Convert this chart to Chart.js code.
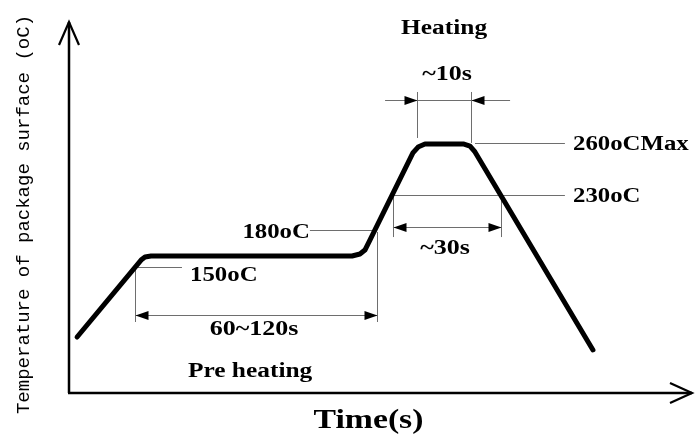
<!DOCTYPE html>
<html>
<head>
<meta charset="utf-8">
<script src="https://cdn.jsdelivr.net/npm/chart.js@4/dist/chart.umd.min.js"></script>
<style>
  html, body { margin: 0; padding: 0; background: #fff; }
  #wrap { width: 695px; height: 439px; position: relative; }
</style>
</head>
<body>
<div id="wrap"><canvas id="c"></canvas></div>
<script>
// ---- profile data (time in s, schematic temperature units) ----
const profileTime = [3.9, 34.7, 36.6, 39.5, 136.3, 140.1, 142.5, 144.9, 165.6, 168.1, 171.4, 190.2, 193.1, 195.5, 252.3];
const profileTemp = [45.3, 107.5, 110.0, 110.8, 110.8, 112.4, 115.6, 123.7, 194.1, 198.9, 201.3, 201.3, 199.7, 194.9, 34.8];

// ---- temperature level marks ----
const levelLabels   = ['150oC', '180oC', '230oC', '260oCMax'];
const levelTemps    = [101.9, 131.8, 160.1, 202.2];
const levelLineFrom = [31.8, 116.0, 156.0, 195.5];
const levelLineTo   = [54.4, 146.4, 238.8, 238.8];
const levelLabelX   = [58.3, 116.0, 242.7, 242.7];
const levelLabelY   = [96.2, 131.0, 160.1, 202.2];
const levelAlign    = ['left', 'right', 'left', 'left'];

// ---- duration marks ----
const spanLabels      = ['60~120s', '~30s', '~10s'];
const spanStart       = [31.8, 156.0, 167.6];
const spanEnd         = [148.3, 208.0, 193.6];
const spanArrowTemp   = [63.1, 134.2, 236.9];
const spanTopStart    = [101.9, 160.1, 243.4];
const spanTopEnd      = [130.2, 160.1, 243.4];
const spanBottomStart = [57.4, 126.1, 206.2];
const spanBottomEnd   = [57.4, 126.1, 202.2];
const spanInward      = [false, false, true];
const spanLineFrom    = [31.8, 156.0, 152.2];
const spanLineTo      = [148.3, 208.0, 212.4];
const spanLabelX      = [89.1, 181.1, 182.0];
const spanLabelY      = [52.6, 118.1, 259.0];

// ---- phase labels ----
const phaseLabels = ['Pre heating', 'Heating'];
const phaseX      = [87.2, 180.6];
const phaseY      = [18.6, 296.0];

const xTitle = 'Time(s)';
const yTitle = 'Temperature of package surface (oC)';

const LABEL_FONT = 'bold 20px "Liberation Serif"';
const GRAY = '#6e6e6e';

function txt(ctx, s, x, y, font, align, sx) {
  ctx.save();
  ctx.font = font;
  ctx.fillStyle = '#000';
  ctx.textAlign = align;
  ctx.textBaseline = 'middle';
  ctx.translate(x, y + 2);
  ctx.scale(sx, 1);
  ctx.fillText(s, 0, 0);
  ctx.restore();
}
function line(ctx, x0, y0, x1, y1) {
  ctx.beginPath();
  ctx.moveTo(x0, y0);
  ctx.lineTo(x1, y1);
  ctx.stroke();
}
function arrowHead(ctx, tipX, y, dir) { // dir -1: points left, +1: points right
  const L = 13, H = 4.5;
  ctx.beginPath();
  ctx.moveTo(tipX, y);
  ctx.lineTo(tipX - dir * L, y - H);
  ctx.lineTo(tipX - dir * L, y + H);
  ctx.closePath();
  ctx.fill();
}

const annotations = {
  id: 'annotations',
  beforeDatasetsDraw(chart) {
    const ctx = chart.ctx, xs = chart.scales.x, ys = chart.scales.y;
    const X = v => xs.getPixelForValue(v), Y = v => ys.getPixelForValue(v);
    ctx.save();
    ctx.strokeStyle = GRAY;
    ctx.fillStyle = '#000';
    ctx.lineWidth = 1;
    // level lines
    for (let i = 0; i < levelTemps.length; i++) {
      line(ctx, X(levelLineFrom[i]), Math.round(Y(levelTemps[i])) + 0.5, X(levelLineTo[i]), Math.round(Y(levelTemps[i])) + 0.5);
    }
    // span marks
    for (let i = 0; i < spanLabels.length; i++) {
      const xa = Math.round(X(spanStart[i])) + 0.5, xb = Math.round(X(spanEnd[i])) + 0.5;
      const ya = Math.round(Y(spanArrowTemp[i])) + 0.5;
      line(ctx, xa, Y(spanTopStart[i]), xa, Y(spanBottomStart[i]));
      line(ctx, xb, Y(spanTopEnd[i]), xb, Y(spanBottomEnd[i]));
      line(ctx, X(spanLineFrom[i]), ya, X(spanLineTo[i]), ya);
      if (spanInward[i]) {
        arrowHead(ctx, xa, ya, 1);
        arrowHead(ctx, xb, ya, -1);
      } else {
        arrowHead(ctx, xa, ya, -1);
        arrowHead(ctx, xb, ya, 1);
      }
    }
    ctx.restore();
  },
  afterDatasetsDraw(chart) {
    const ctx = chart.ctx, xs = chart.scales.x, ys = chart.scales.y, a = chart.chartArea;
    const X = v => xs.getPixelForValue(v), Y = v => ys.getPixelForValue(v);
    // axes with open arrow heads
    ctx.save();
    ctx.strokeStyle = '#000';
    ctx.lineWidth = 2.5;
    ctx.lineCap = 'butt';
    line(ctx, a.left, a.bottom, a.left, a.top);
    line(ctx, a.left - 1, a.bottom, a.right, a.bottom);
    ctx.lineWidth = 2.2;
    ctx.beginPath();
    ctx.moveTo(a.left - 10, a.top + 23); ctx.lineTo(a.left, a.top); ctx.lineTo(a.left + 10, a.top + 23);
    ctx.stroke();
    ctx.beginPath();
    ctx.moveTo(a.right - 22, a.bottom - 10); ctx.lineTo(a.right, a.bottom); ctx.lineTo(a.right - 22, a.bottom + 10);
    ctx.stroke();
    ctx.restore();

    // labels
    for (let i = 0; i < levelLabels.length; i++) {
      txt(ctx, levelLabels[i], X(levelLabelX[i]), Y(levelLabelY[i]), LABEL_FONT, levelAlign[i], 1.24);
    }
    for (let i = 0; i < spanLabels.length; i++) {
      txt(ctx, spanLabels[i], X(spanLabelX[i]), Y(spanLabelY[i]), LABEL_FONT, 'center', 1.3);
    }
    for (let i = 0; i < phaseLabels.length; i++) {
      txt(ctx, phaseLabels[i], X(phaseX[i]), Y(phaseY[i]), LABEL_FONT, 'center', 1.27);
    }
    // axis titles
    txt(ctx, xTitle, (a.left + a.right) / 2 - 12, a.bottom + 26, 'bold 27px "Liberation Serif"', 'center', 1.25);
    ctx.save();
    ctx.translate(24, (a.top + a.bottom) / 2 + 7);
    ctx.rotate(-Math.PI / 2);
    ctx.font = '19px "Liberation Mono"';
    ctx.fillStyle = '#000';
    ctx.textAlign = 'center';
    ctx.textBaseline = 'middle';
    ctx.fillText(yTitle, 0, 0);
    ctx.restore();
  }
};

new Chart(document.getElementById('c'), {
  type: 'line',
  data: {
    datasets: [{
      data: profileTime.map((t, i) => ({ x: t, y: profileTemp[i] })),
      borderColor: '#000',
      borderWidth: 5,
      borderJoinStyle: 'round',
      borderCapStyle: 'round',
      pointRadius: 0,
      tension: 0,
      fill: false
    }]
  },
  options: {
    responsive: true,
    maintainAspectRatio: false,
    animation: false,
    layout: { padding: { left: 69, right: 3, top: 22, bottom: 46 } },
    plugins: { legend: { display: false }, tooltip: { enabled: false } },
    scales: {
      x: { type: 'linear', min: 0, max: 300, display: false },
      y: { type: 'linear', min: 0, max: 300, display: false }
    }
  },
  plugins: [annotations]
});
</script>
</body>
</html>
